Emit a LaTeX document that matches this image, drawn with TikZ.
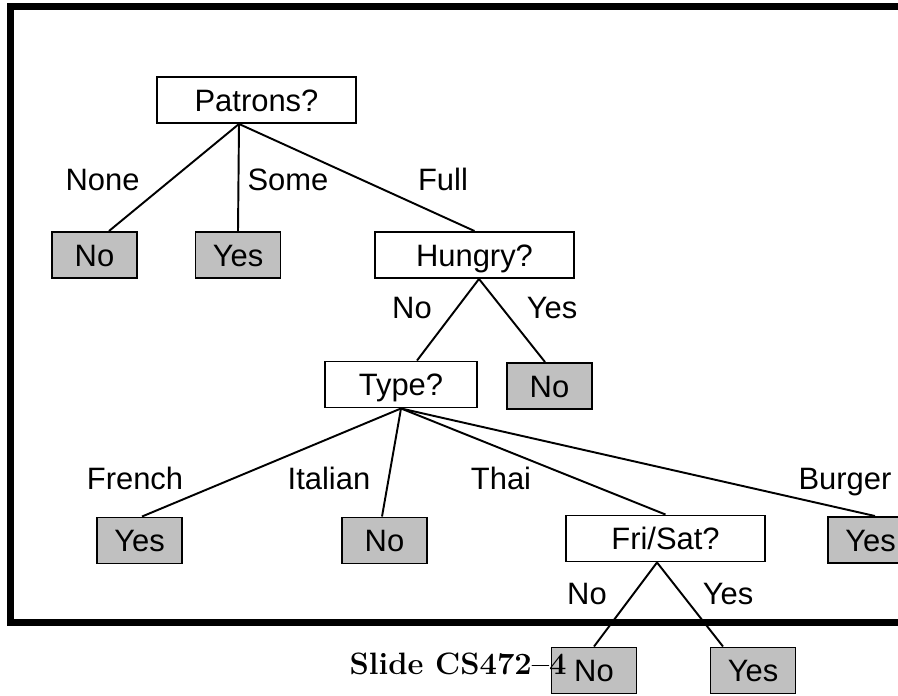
\documentclass[tikz,border=0pt]{standalone}
\usepackage{fontspec}
\newfontfamily\arialfont{Liberation Sans}
\usetikzlibrary{positioning}
\definecolor{leafC}{RGB}{192,192,192}
\newcommand{\TestW}{3.98}
\newcommand{\TypeW}{3.04}
\newcommand{\LeafW}{1.70}
\newcommand{\BoxH}{0.92}
\newcommand{\ArialBig}{\arialfont\fontsize{17.6}{21}\selectfont}
\tikzset{
    line/.style   = {draw=black, line width=1.1pt},
    test/.style   = {draw=black, line width=1.1pt, fill=white,
            minimum width=\TestW cm, minimum height=\BoxH cm, inner sep=0pt,
            font=\ArialBig, text height=12.6pt, text depth=0pt},
    leaf/.style   = {test, fill=leafC, minimum width=\LeafW cm},
    answer/.style = {inner sep=0pt, font=\ArialBig, text height=12.6pt, text depth=0pt},
}

\begin{document}
\begin{tikzpicture}
    \clip (0,0) rectangle (17.96,13.92);
    % slide frame (runs off the right edge)
    \draw[line width=4pt] (0.21,1.47) rectangle (20,13.79);

    % tests
    \node[test] (patrons) at (5.13,11.92) {Patrons?};
    \node[test] (hungry)  at (9.49,8.82)  {Hungry?};
    \node[test, minimum width=\TypeW cm] (type) at (8.02,6.23) {Type?};
    \node[test] (frisat)  at (13.31,3.15) {Fri/Sat?};

    % leaves
    \node[leaf] (noNone)    at (1.89,8.82)  {No};
    \node[leaf] (yesSome)   at (4.76,8.82)  {Yes};
    \node[leaf] (noHungry)  at (10.99,6.20) {No};
    \node[leaf] (yesFrench) at (2.79,3.11)  {Yes};
    \node[leaf] (noItalian) at (7.69,3.11)  {No};
    \node[leaf] (yesBurger) at (17.41,3.12) {Yes};
    \node[leaf] (noFri)     at (11.88,0.51) {No};
    \node[leaf] (yesFri)    at (15.06,0.51) {Yes};

    % branches
    \draw[line] ([xshift=-0.35cm]patrons.south) -- ([xshift=0.29cm]noNone.north);
    \draw[line] ([xshift=-0.35cm]patrons.south) -- (yesSome.north);
    \draw[line] ([xshift=-0.35cm]patrons.south) -- (hungry.north);
    \draw[line] ([xshift=0.09cm]hungry.south) -- ([xshift=0.32cm]type.north);
    \draw[line] ([xshift=0.09cm]hungry.south) -- ([xshift=-0.09cm]noHungry.north);
    \draw[line] (type.south) -- ([xshift=0.05cm]yesFrench.north);
    \draw[line] (type.south) -- ([xshift=-0.05cm]noItalian.north);
    \draw[line] (type.south) -- (frisat.north);
    \draw[line] (type.south) -- ([xshift=0.09cm]yesBurger.north);
    \draw[line] ([xshift=-0.17cm]frisat.south) -- (noFri.north);
    \draw[line] ([xshift=-0.17cm]frisat.south) -- ([xshift=-0.6cm]yesFri.north);

    % branch labels
    \node[answer] (lNone)    at (2.05,10.34)  {None};
    \node[answer] (lSome)    at (5.76,10.34)  {Some};
    \node[answer] (lFull)    at (8.86,10.34)  {Full};
    \node[answer] (lHungNo)  at (8.24,7.78)   {No};
    \node[answer] (lHungYes) at (11.04,7.78)  {Yes};
    \node[answer] (lFrench)  at (2.70,4.36)   {French};
    \node[answer] (lItalian) at (6.58,4.36)   {Italian};
    \node[answer] (lThai)    at (10.02,4.36)  {Thai};
    \node[answer] (lBurger)  at (16.90,4.36)  {Burger};
    \node[answer] (lFriNo)   at (11.74,2.06)  {No};
    \node[answer] (lFriYes)  at (14.56,2.06)  {Yes};

    % footer
    \node[anchor=base east, inner sep=0pt, font=\fontsize{17.6}{21}\selectfont\bfseries] (footer) at (11.34,0.42) {Slide CS472--4};
\end{tikzpicture}
\end{document}
